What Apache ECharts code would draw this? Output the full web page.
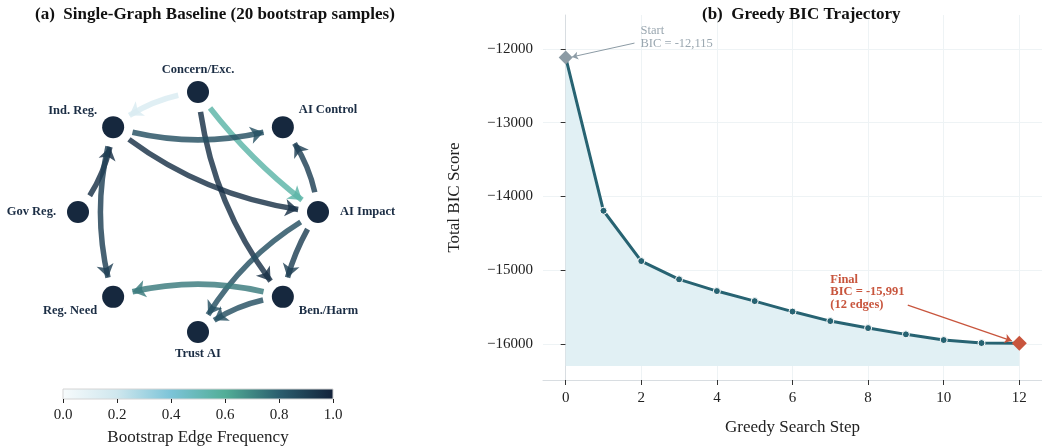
<!DOCTYPE html>
<html>
<head>
<meta charset="utf-8">
<script src="https://cdn.jsdelivr.net/npm/echarts@6/dist/echarts.min.js"></script>
<style>
html,body{margin:0;padding:0;background:#fff;}
#chart{width:1042px;height:448px;}
</style>
</head>
<body>
<div id="chart"></div>
<script>
// ---------- data ----------
const nodeNames = ['Concern/Exc.', 'AI Control', 'AI Impact', 'Ben./Harm', 'Trust AI', 'Reg. Need', 'Gov Reg.', 'Ind. Reg.'];
const edgeSources = ['Concern/Exc.', 'Concern/Exc.', 'Concern/Exc.', 'Ind. Reg.', 'Ind. Reg.', 'Gov Reg.', 'Ind. Reg.', 'AI Impact', 'AI Impact', 'AI Impact', 'Ben./Harm', 'Ben./Harm'];
const edgeTargets = ['Ind. Reg.', 'AI Impact', 'Ben./Harm', 'AI Control', 'AI Impact', 'Ind. Reg.', 'Reg. Need', 'AI Control', 'Ben./Harm', 'Trust AI', 'Reg. Need', 'Trust AI'];
const edgeFreq = [0.15, 0.55, 0.95, 0.85, 0.95, 0.95, 0.9, 0.9, 0.9, 0.85, 0.73, 0.85];

const steps = [0, 1, 2, 3, 4, 5, 6, 7, 8, 9, 10, 11, 12];
const bicScores = [-12115, -14195, -14877, -15125, -15284, -15420, -15562, -15691, -15786, -15871, -15948, -15989, -15991];
const startPoint = [0, -12115];
const finalPoint = [12, -15991];
const fillBase = -16300;

const xTicks = [0, 2, 4, 6, 8, 10, 12];
const yTicks = [-16000, -15000, -14000, -13000, -12000];
const cbarTicks = [0, 0.2, 0.4, 0.6, 0.8, 1.0];

// ---------- styling helpers ----------
const SERIF = "'Liberation Serif', 'Times New Roman', serif";
const cmapStops = [
  [0.0, [247, 251, 252]],
  [0.2, [207, 231, 238]],
  [0.4, [124, 196, 216]],
  [0.6, [82, 174, 151]],
  [0.8, [43, 94, 110]],
  [1.0, [19, 34, 58]]
];
function cmap(v) {
  for (let i = 1; i < cmapStops.length; i++) {
    if (v <= cmapStops[i][0]) {
      const a = cmapStops[i - 1], b = cmapStops[i];
      const t = (v - a[0]) / (b[0] - a[0]);
      const c = a[1].map((x, k) => Math.round(x + (b[1][k] - x) * t));
      return 'rgb(' + c.join(',') + ')';
    }
  }
  const l = cmapStops[cmapStops.length - 1][1];
  return 'rgb(' + l.join(',') + ')';
}
const labelPlace = {
  'Concern/Exc.': { position: 'top', distance: 5 },
  'AI Control': { position: 'right', distance: 5, offset: [0, -17] },
  'AI Impact': { position: 'right', distance: 11 },
  'Ben./Harm': { position: 'right', distance: 5, offset: [0, 14] },
  'Trust AI': { position: 'bottom', distance: 4 },
  'Reg. Need': { position: 'left', distance: 5, offset: [0, 14] },
  'Gov Reg.': { position: 'left', distance: 11 },
  'Ind. Reg.': { position: 'left', distance: 5, offset: [0, -16] }
};
const edgeCurve = [-0.15, -0.08, -0.15, -0.15, -0.15, -0.15, -0.15, -0.15, -0.1, -0.15, -0.15, -0.15];

const nodeDataHidden = nodeNames.map((n, i) => ({ name: n, value: [1, i] }));
const nodeDataVisible = nodeNames.map((n, i) => ({
  name: n, value: [1, i],
  label: Object.assign({ show: true }, labelPlace[n])
}));
const links = edgeSources.map((s, i) => ({
  source: s, target: edgeTargets[i],
  lineStyle: { color: cmap(edgeFreq[i]), curveness: edgeCurve[i] }
}));

const chart = echarts.init(document.getElementById('chart'), null, { renderer: 'canvas' });
chart.setOption({
  backgroundColor: '#ffffff',
  animation: false,
  textStyle: { fontFamily: SERIF },
  title: [
    { text: '(a)  Single-Graph Baseline (20 bootstrap samples)', left: 30, top: 1,
      textStyle: { fontFamily: SERIF, fontSize: 17, fontWeight: 'bold', color: '#111' } },
    { text: '(b)  Greedy BIC Trajectory', left: 697, top: 1,
      textStyle: { fontFamily: SERIF, fontSize: 17, fontWeight: 'bold', color: '#111' } }
  ],
  polar: { center: [198, 212], radius: 120 },
  angleAxis: { type: 'value', min: 0, max: nodeNames.length, startAngle: 90, clockwise: true, show: false },
  radiusAxis: { type: 'value', min: 0, max: 1, show: false },
  grid: [
    { left: 543, top: 15, width: 507, bottom: 68, containLabel: false },
    { left: 63, top: 389, width: 270, height: 10, show: true,
      backgroundColor: new echarts.graphic.LinearGradient(0, 0, 1, 0,
        cmapStops.map(s => ({ offset: s[0], color: 'rgb(' + s[1].join(',') + ')' }))),
      borderColor: '#d4d4d4', borderWidth: 1 }
  ],
  xAxis: [
    { type: 'value', gridIndex: 0, min: -0.6, max: 12.6,
      name: 'Greedy Search Step', nameLocation: 'middle', nameGap: 39,
      nameTextStyle: { fontFamily: SERIF, fontSize: 17, color: '#222' },
      axisLine: { show: true, lineStyle: { color: '#d8dde1', width: 1 } },
      axisTick: { show: true, length: 5, customValues: xTicks, lineStyle: { color: '#333' } },
      axisLabel: { customValues: xTicks, margin: 11, fontFamily: SERIF, fontSize: 15, color: '#222' },
      splitLine: { show: true, lineStyle: { color: '#eef3f5', width: 1 } }
    },
    { type: 'value', gridIndex: 1, min: 0, max: 1, interval: 0.2,
      name: 'Bootstrap Edge Frequency', nameLocation: 'middle', nameGap: 30,
      nameTextStyle: { fontFamily: SERIF, fontSize: 17, color: '#222' },
      axisLine: { show: false },
      axisTick: { show: true, length: 4, lineStyle: { color: '#222' } },
      axisLabel: { margin: 9, fontFamily: SERIF, fontSize: 15, color: '#222', formatter: v => v.toFixed(1) },
      splitLine: { show: false }
    }
  ],
  yAxis: [
    { type: 'value', gridIndex: 0, min: -16490, max: -11540,
      name: 'Total BIC Score', nameLocation: 'middle', nameGap: 80, nameRotate: 90,
      nameTextStyle: { fontFamily: SERIF, fontSize: 17, color: '#222' },
      axisLine: { show: true, lineStyle: { color: '#d8dde1', width: 1 } },
      axisTick: { show: true, length: 5, customValues: yTicks, lineStyle: { color: '#333' } },
      axisLabel: { customValues: yTicks, margin: 10, fontFamily: SERIF, fontSize: 15, color: '#222',
        formatter: v => String(v).replace('-', '\u2212') },
      splitLine: { show: true, lineStyle: { color: '#eef3f5', width: 1 } }
    },
    { type: 'value', gridIndex: 1, min: 0, max: 1, show: false }
  ],
  series: [
    { // edges (invisible node halo used to trim edges)
      type: 'graph', coordinateSystem: 'polar', z: 2,
      symbol: 'circle', symbolSize: 40,
      itemStyle: { color: 'rgba(0,0,0,0)' },
      label: { show: false },
      edgeSymbol: ['circle', 'arrow'], edgeSymbolSize: [0, 13],
      lineStyle: { width: 5.5, opacity: 0.82, curveness: -0.15 },
      data: nodeDataHidden,
      links: links,
      silent: true
    },
    { // visible nodes
      type: 'graph', coordinateSystem: 'polar', z: 3,
      symbol: 'circle', symbolSize: 22,
      itemStyle: { color: '#16283e' },
      label: { show: true, fontFamily: SERIF, fontSize: 12.5, fontWeight: 'bold', color: '#1b2d44' },
      data: nodeDataVisible,
      links: [],
      silent: true
    },
    { // BIC trajectory
      type: 'line', xAxisIndex: 0, yAxisIndex: 0, z: 3,
      data: steps.map((s, i) => [s, bicScores[i]]),
      symbol: 'circle', symbolSize: 7, showSymbol: true,
      lineStyle: { color: '#276372', width: 3 },
      itemStyle: { color: '#276372', borderColor: '#ffffff', borderWidth: 1 },
      areaStyle: { color: '#e1f0f4', opacity: 1, origin: fillBase },
      markLine: {
        silent: true, animation: false,
        label: { show: false },
        lineStyle: { type: 'solid' },
        data: [
          [ { coord: [1.82, -11921], symbol: 'none', lineStyle: { color: '#8c9ba5', width: 1, type: 'solid' } },
            { coord: [0.17, -12108], symbol: 'arrow', symbolSize: 6 } ],
          [ { coord: [9.05, -15474], symbol: 'none', lineStyle: { color: '#c8553d', width: 1.3, type: 'solid' } },
            { coord: [11.8, -15958], symbol: 'arrow', symbolSize: 7 } ]
        ]
      },
      markPoint: {
        silent: true, animation: false,
        symbol: 'circle', symbolSize: 0,
        data: [
          { coord: [1.98, -11840], label: { show: true, position: 'right', distance: 0,
            formatter: 'Start\nBIC = -12,115', fontFamily: SERIF, fontSize: 12.5, lineHeight: 12.5, color: '#9aa7b0' } },
          { coord: [7.0, -15295], label: { show: true, position: 'right', distance: 0,
            formatter: 'Final\nBIC = -15,991\n(12 edges)', fontFamily: SERIF, fontSize: 12.5, lineHeight: 12.5, fontWeight: 'bold', color: '#c8553d' } }
        ]
      }
    },
    { // start / final markers
      type: 'scatter', xAxisIndex: 0, yAxisIndex: 0, z: 4,
      symbol: 'diamond',
      itemStyle: { opacity: 1 },
      data: [
        { value: startPoint, symbolSize: 14, itemStyle: { color: '#8c9ba5', opacity: 1 } },
        { value: finalPoint, symbolSize: 15, itemStyle: { color: '#c8553d', opacity: 1 } }
      ]
    }
  ]
});
</script>
</body>
</html>
